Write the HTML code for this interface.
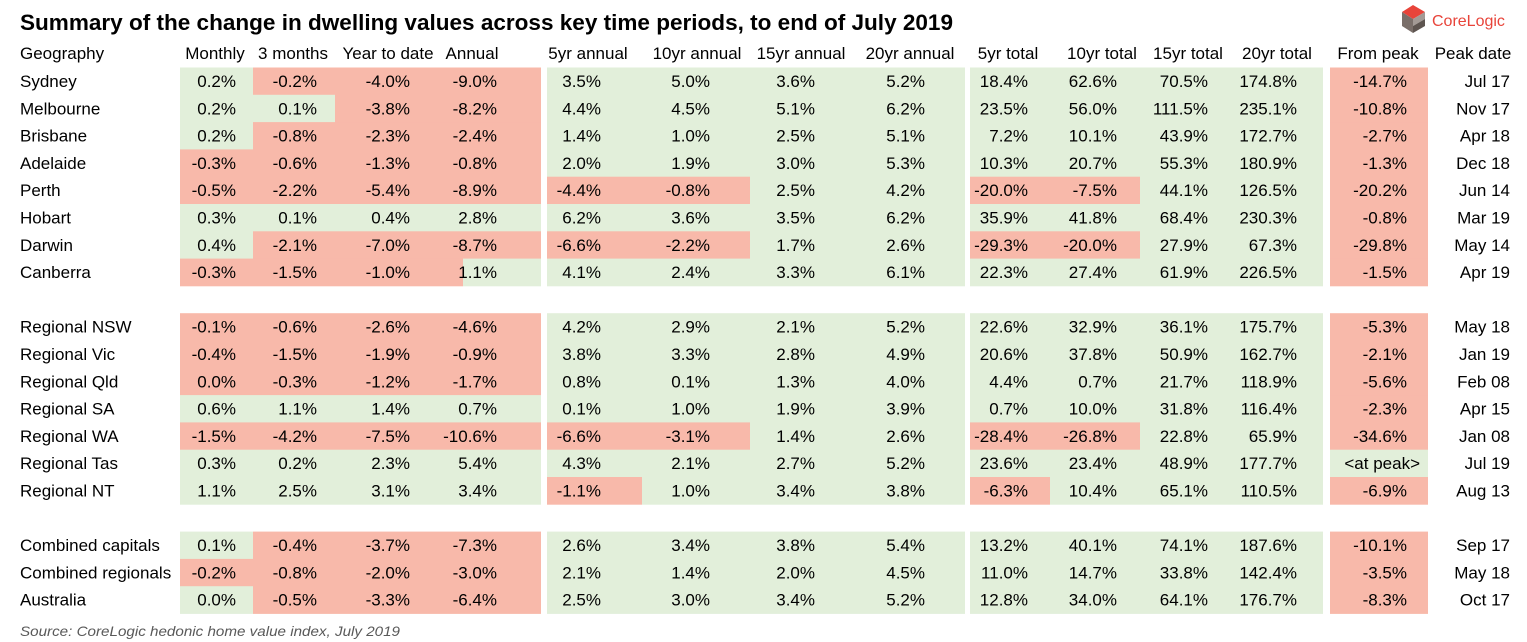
<!DOCTYPE html>
<html><head><meta charset="utf-8"><style>
html,body{margin:0;padding:0;background:#fff;}
svg{display:block;font-family:"Liberation Sans",Arial,sans-serif;}
</style></head><body>
<svg id="tbl" width="1527" height="642" viewBox="0 0 1527 642" xmlns="http://www.w3.org/2000/svg">
<text x="20" y="30" font-size="22" font-weight="bold" fill="#000" textLength="933" lengthAdjust="spacingAndGlyphs">Summary of the change in dwelling values across key time periods, to end of July 2019</text>
<g>
<polygon points="1402,12 1413,5 1425,12 1413,19" fill="#e8443a"/>
<polygon points="1402,12 1413,19 1413,33 1402,26" fill="#7a6f6a"/>
<polygon points="1413,19 1425,12 1425,19 1413,26" fill="#a39a95"/>
<polygon points="1413,26 1425,19 1425,26 1413,33" fill="#5e5550"/>
<text x="1432" y="26" font-size="16" fill="#e8443a">CoreLogic</text>
</g>
<g id="cells"></g>
<text x="20" y="636" font-size="14" font-style="italic" fill="#595959" textLength="380" lengthAdjust="spacingAndGlyphs">Source:  CoreLogic hedonic home value index, July 2019</text>
</svg>
<script>
const headers = ["Monthly","3 months","Year to date","Annual","5yr annual","10yr annual","15yr annual","20yr annual","5yr total","10yr total","15yr total","20yr total","From peak","Peak date"];
const regions = ["Sydney","Melbourne","Brisbane","Adelaide","Perth","Hobart","Darwin","Canberra","","Regional NSW","Regional Vic","Regional Qld","Regional SA","Regional WA","Regional Tas","Regional NT","","Combined capitals","Combined regionals","Australia"];
const values = [
["0.2%","-0.2%","-4.0%","-9.0%","3.5%","5.0%","3.6%","5.2%","18.4%","62.6%","70.5%","174.8%","-14.7%","Jul 17"],
["0.2%","0.1%","-3.8%","-8.2%","4.4%","4.5%","5.1%","6.2%","23.5%","56.0%","111.5%","235.1%","-10.8%","Nov 17"],
["0.2%","-0.8%","-2.3%","-2.4%","1.4%","1.0%","2.5%","5.1%","7.2%","10.1%","43.9%","172.7%","-2.7%","Apr 18"],
["-0.3%","-0.6%","-1.3%","-0.8%","2.0%","1.9%","3.0%","5.3%","10.3%","20.7%","55.3%","180.9%","-1.3%","Dec 18"],
["-0.5%","-2.2%","-5.4%","-8.9%","-4.4%","-0.8%","2.5%","4.2%","-20.0%","-7.5%","44.1%","126.5%","-20.2%","Jun 14"],
["0.3%","0.1%","0.4%","2.8%","6.2%","3.6%","3.5%","6.2%","35.9%","41.8%","68.4%","230.3%","-0.8%","Mar 19"],
["0.4%","-2.1%","-7.0%","-8.7%","-6.6%","-2.2%","1.7%","2.6%","-29.3%","-20.0%","27.9%","67.3%","-29.8%","May 14"],
["-0.3%","-1.5%","-1.0%","1.1%","4.1%","2.4%","3.3%","6.1%","22.3%","27.4%","61.9%","226.5%","-1.5%","Apr 19"],
null,
["-0.1%","-0.6%","-2.6%","-4.6%","4.2%","2.9%","2.1%","5.2%","22.6%","32.9%","36.1%","175.7%","-5.3%","May 18"],
["-0.4%","-1.5%","-1.9%","-0.9%","3.8%","3.3%","2.8%","4.9%","20.6%","37.8%","50.9%","162.7%","-2.1%","Jan 19"],
["0.0%","-0.3%","-1.2%","-1.7%","0.8%","0.1%","1.3%","4.0%","4.4%","0.7%","21.7%","118.9%","-5.6%","Feb 08"],
["0.6%","1.1%","1.4%","0.7%","0.1%","1.0%","1.9%","3.9%","0.7%","10.0%","31.8%","116.4%","-2.3%","Apr 15"],
["-1.5%","-4.2%","-7.5%","-10.6%","-6.6%","-3.1%","1.4%","2.6%","-28.4%","-26.8%","22.8%","65.9%","-34.6%","Jan 08"],
["0.3%","0.2%","2.3%","5.4%","4.3%","2.1%","2.7%","5.2%","23.6%","23.4%","48.9%","177.7%","<at peak>","Jul 19"],
["1.1%","2.5%","3.1%","3.4%","-1.1%","1.0%","3.4%","3.8%","-6.3%","10.4%","65.1%","110.5%","-6.9%","Aug 13"],
null,
["0.1%","-0.4%","-3.7%","-7.3%","2.6%","3.4%","3.8%","5.4%","13.2%","40.1%","74.1%","187.6%","-10.1%","Sep 17"],
["-0.2%","-0.8%","-2.0%","-3.0%","2.1%","1.4%","2.0%","4.5%","11.0%","14.7%","33.8%","142.4%","-3.5%","May 18"],
["0.0%","-0.5%","-3.3%","-6.4%","2.5%","3.0%","3.4%","5.2%","12.8%","34.0%","64.1%","176.7%","-8.3%","Oct 17"]
];
// cells shaded red although displayed as 0.0% (small negative underlying value)
const redOverrides = ["11-0"];

const NS="http://www.w3.org/2000/svg";
const g=document.getElementById('cells');
const cellL=[180,253,335,463,547,642,750,855,970,1050,1140,1230,1330];
const cellR=[253,335,463,541,642,750,855,965,1050,1140,1230,1323,1428];
const textR=[236,317,410,497,601,710,815,925,1028,1117,1208,1297,1407,1510];
const headC=[215,293,388,472,588,697,801,910,1008,1102,1188,1277,1378,1473];
const top0=67.5, rh=27.3, fs=17;
function mk(tag,attrs,txt){const e=document.createElementNS(NS,tag);for(const k in attrs)e.setAttribute(k,attrs[k]);if(txt!==undefined)e.textContent=txt;g.appendChild(e);return e;}
let t=mk('text',{x:20,y:59,'font-size':fs,fill:'#000'},'Geography');


headers.forEach((h,i)=>{
  const e=mk('text',{x:headC[i],y:59,'font-size':fs,fill:'#000','text-anchor':'middle'},h);
  
  
});
values.forEach((row,r)=>{
  if(!row)return;
  const y=top0+r*rh;
  const lab=mk('text',{x:20,y:y+19.5,'font-size':fs,fill:'#000'},regions[r]);
  
  
  row.forEach((v,c)=>{
    if(c<13){
      const red=v.startsWith('-')||redOverrides.includes(r+'-'+c);
      const rc=mk('rect',{x:cellL[c],y:y,width:cellR[c]-cellL[c],height:rh+0.4,fill:red?'#f8b9aa':'#e2efda'});
      
      
    }
    const isPeak=v.startsWith('<');
    const tx=mk('text',{x:isPeak?1420:textR[c],y:y+19.5,'font-size':fs,fill:'#000','text-anchor':'end'},v);
    
    
  });
});
</script>
</body></html>
